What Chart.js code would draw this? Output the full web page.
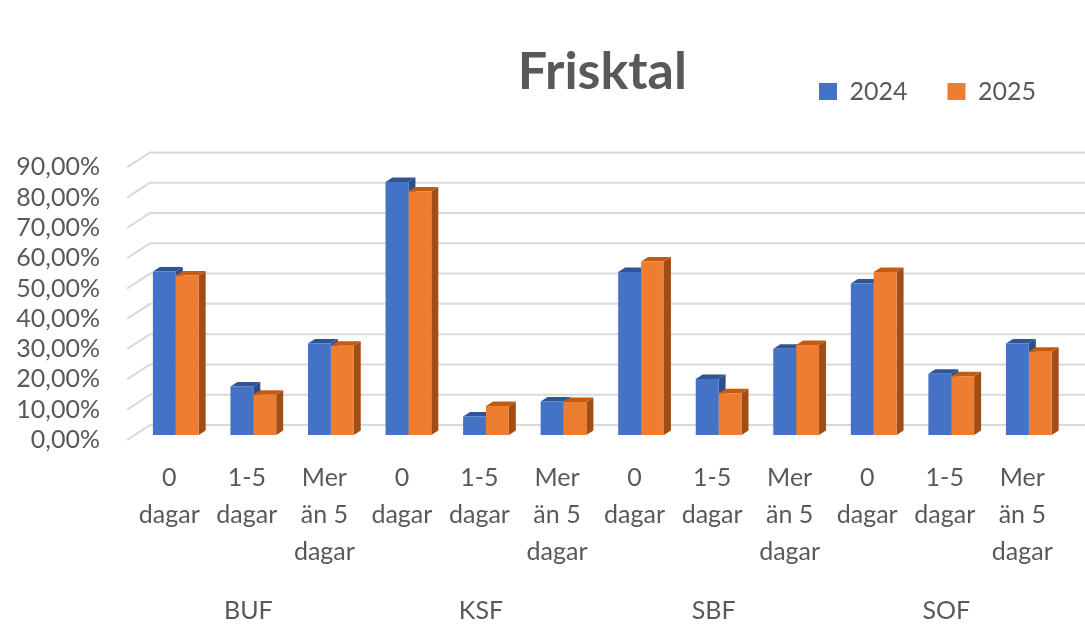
<!DOCTYPE html>
<html>
<head>
<meta charset="utf-8">
<script src="https://cdn.jsdelivr.net/npm/chart.js@4/dist/chart.umd.min.js"></script>
<style>
  html, body { margin: 0; padding: 0; background: #ffffff; }
  #wrap { width: 1085px; height: 624px; }
</style>
</head>
<body>
<div id="wrap"><canvas id="c" width="1085" height="624"></canvas></div>
<script>
// ---- data ----
const groups = ['BUF', 'KSF', 'SBF', 'SOF'];
const subCategories = [['0', 'dagar'], ['1-5', 'dagar'], ['Mer', 'än 5', 'dagar']];
const seriesNames = ['2024', '2025'];
const values2024 = [54.0, 16.0, 30.2, 83.5, 6.1, 11.1, 53.8, 18.5, 28.5, 50.0, 20.2, 30.2];
const values2025 = [52.7, 13.3, 29.5, 80.4, 9.6, 10.9, 57.3, 13.8, 29.7, 53.8, 19.4, 27.5];
const yTicks = [0, 10, 20, 30, 40, 50, 60, 70, 80, 90];

// ---- derived labels ----
const labels = [];
const groupLabels = [];
groups.forEach(g => {
  subCategories.forEach((s, i) => {
    labels.push(s);
    groupLabels.push(i === 1 ? g : '');
  });
});

const FONT = 'Lato, "Open Sans", "Liberation Sans", sans-serif';
const TEXT = '#595959';
const DEPTH_X = 7, DEPTH_Y = 4.5;

const shade = {
  '#4472c4': { top: '#2f5597', side: '#2b4d8a' },
  '#ed7d31': { top: '#c55a11', side: '#a04d16' }
};

const wallGrid = {
  id: 'wallGrid',
  beforeDatasetsDraw(chart) {
    const { ctx, chartArea, scales } = chart;
    const y = scales.y;
    ctx.save();
    ctx.strokeStyle = '#d9d9d9';
    ctx.lineWidth = 2;
    y.ticks.forEach(t => {
      const py = y.getPixelForValue(t.value);
      ctx.beginPath();
      ctx.moveTo(chartArea.left - 10, py + 5);
      ctx.lineTo(chartArea.left + 13, py - 10);
      ctx.lineTo(chart.width, py - 10);
      ctx.stroke();
    });
    ctx.restore();
  }
};

const bars3d = {
  id: 'bars3d',
  beforeDatasetsDraw(chart) {
    const { ctx } = chart;
    ctx.save();
    chart.data.datasets.forEach((ds, di) => {
      const meta = chart.getDatasetMeta(di);
      const c = shade[ds.backgroundColor];
      meta.data.forEach(el => {
        const p = el.getProps(['x', 'y', 'base', 'width'], true);
        const l = p.x - p.width / 2, r = p.x + p.width / 2;
        ctx.fillStyle = c.side;
        ctx.beginPath();
        ctx.moveTo(r, p.y);
        ctx.lineTo(r + DEPTH_X, p.y - DEPTH_Y);
        ctx.lineTo(r + DEPTH_X, p.base - DEPTH_Y);
        ctx.lineTo(r, p.base);
        ctx.closePath();
        ctx.fill();
        ctx.fillStyle = c.top;
        ctx.beginPath();
        ctx.moveTo(l, p.y);
        ctx.lineTo(l + DEPTH_X, p.y - DEPTH_Y);
        ctx.lineTo(r + DEPTH_X, p.y - DEPTH_Y);
        ctx.lineTo(r, p.y);
        ctx.closePath();
        ctx.fill();
      });
    });
    ctx.restore();
  }
};

new Chart(document.getElementById('c'), {
  type: 'bar',
  data: {
    labels: labels,
    datasets: [
      { label: seriesNames[0], data: values2024, backgroundColor: '#4472c4' },
      { label: seriesNames[1], data: values2025, backgroundColor: '#ed7d31' }
    ]
  },
  plugins: [wallGrid, bars3d],
  options: {
    responsive: false,
    animation: false,
    devicePixelRatio: 1,
    layout: { padding: { top: 39, left: 15, right: 9, bottom: 0 } },
    datasets: { bar: { categoryPercentage: 0.59, barPercentage: 1.0, borderWidth: 0 } },
    plugins: {
      tooltip: { enabled: false },
      legend: {
        display: true,
        position: 'top',
        align: 'end',
        weight: 3000,
        labels: {
          boxWidth: 18,
          boxHeight: 17,
          padding: 40,
          color: TEXT,
          font: { family: FONT, size: 25 }
        }
      },
      title: {
        display: true,
        text: 'Frisktal',
        position: 'top',
        fullSize: false,
        weight: 500,
        color: TEXT,
        font: { family: FONT, size: 52, weight: 'bold', lineHeight: 1.2 },
        padding: { top: -73, bottom: 59 }
      }
    },
    scales: {
      x: {
        position: 'bottom',
        grid: { display: false, drawTicks: false },
        border: { display: false },
        ticks: {
          color: TEXT,
          font: { family: FONT, size: 25, lineHeight: 1.47 },
          padding: 25,
          labelOffset: -6.5,
          autoSkip: false,
          maxRotation: 0,
          minRotation: 0
        },
        afterFit(s) { s.height = 135; }
      },
      x2: {
        type: 'category',
        position: 'bottom',
        labels: groupLabels,
        offset: true,
        grid: { display: false, drawTicks: false },
        border: { display: false },
        ticks: {
          color: TEXT,
          font: { family: FONT, size: 25, lineHeight: 1.2 },
          padding: 26,
          labelOffset: -5,
          autoSkip: false,
          maxRotation: 0,
          minRotation: 0
        },
        afterFit(s) { s.height = 54; }
      },
      y: {
        min: 0,
        max: 90,
        grid: { display: false, drawTicks: false },
        border: { display: false },
        afterBuildTicks(s) { s.ticks = yTicks.map(v => ({ value: v })); },
        ticks: {
          color: TEXT,
          font: { family: FONT, size: 25 },
          padding: 37,
          labelOffset: 5,
          autoSkip: false,
          callback: v => v.toFixed(2).replace('.', ',') + '%'
        },
        afterFit(s) { s.width = 122; }
      }
    }
  }
});
</script>
</body>
</html>
